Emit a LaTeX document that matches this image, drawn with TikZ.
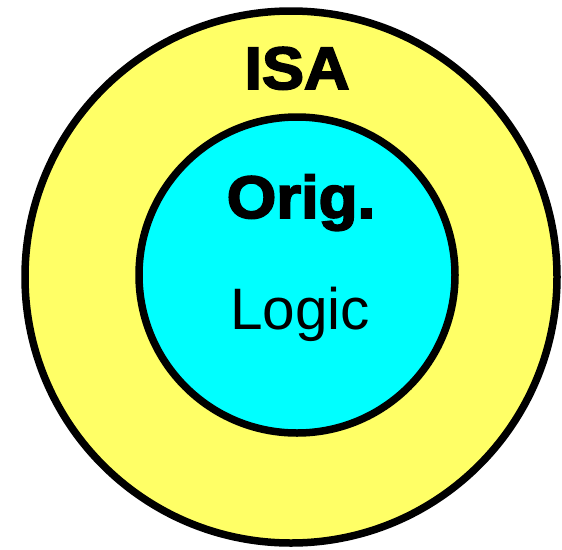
\documentclass[tikz,border=0pt]{standalone}
\usepackage{fontspec}
\setmainfont{Liberation Sans}
\newfontfamily\heavyfont{Liberation Sans}[FakeBold=3,BoldFont={Liberation Sans Bold}]
\definecolor{ringyellow}{HTML}{FFFF66}
\definecolor{corecyan}{HTML}{00FFFF}
\tikzset{
  ring/.style={circle, draw=black, line width=7.5pt, inner sep=0pt},
  heavylabel/.style={anchor=base, inner sep=0pt, font=\heavyfont\bfseries\fontsize{60}{60}\selectfont},
  plainlabel/.style={anchor=base, inner sep=0pt, font=\fontsize{58.5}{60}\selectfont}
}
\begin{document}
\begin{tikzpicture}[x=1pt,y=-1pt]
  \useasboundingbox (0,0) rectangle (562,549);
  % outer ring and inner core
  \node[ring, fill=ringyellow, minimum size=532pt] (isa) at (291,277) {};
  \node[ring, fill=corecyan, minimum size=316pt] (orig) at (297,275) {};
  % labels
  \node[heavylabel, xscale=1.05] (isatext) at (297,89) {ISA};
  \node[heavylabel, xscale=1.06] (origtext) at (301,218) {Orig.};
  \node[plainlabel] (logictext) at (300,329) {Logic};
\end{tikzpicture}
\end{document}
